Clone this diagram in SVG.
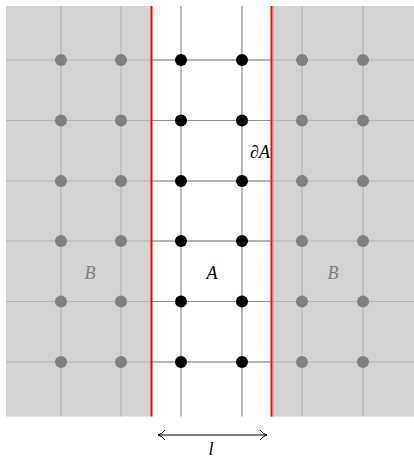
<svg xmlns="http://www.w3.org/2000/svg" width="414" height="460" viewBox="0 0 414 460">
<style>
.bg{fill:#d3d3d3}
.gl{stroke:#b4b4b4;stroke-width:1.2}
.gd{stroke:#8f8f8f;stroke-width:1.2}
.dg{fill:#808080}
.dk{fill:#000}
.bd{stroke:#ff0000;stroke-width:2}
.lbl{font-family:"Liberation Serif","DejaVu Serif",serif;font-style:italic;font-size:18px;text-anchor:middle}
</style>
<defs>
<marker id="ah" markerWidth="10" markerHeight="12" refX="8" refY="6" orient="auto-start-reverse" markerUnits="userSpaceOnUse">
<path d="M1,1 Q4,5 8,6 Q4,7 1,11" fill="none" stroke="#000" stroke-width="1"/>
</marker>
</defs>
<rect width="414" height="460" fill="#fff"/>
<g id="regionB-left"><rect class="bg" x="6" y="6" width="145.5" height="410.5"/></g>
<g id="regionB-right"><rect class="bg" x="271.5" y="6" width="142.5" height="410.5"/></g>
<g id="grid">
<line class="gl" x1="61" y1="6" x2="61" y2="416.5"/>
<line class="gl" x1="121" y1="6" x2="121" y2="416.5"/>
<line class="gl" x1="302" y1="6" x2="302" y2="416.5"/>
<line class="gl" x1="363" y1="6" x2="363" y2="416.5"/>
<line class="gd" x1="181" y1="6" x2="181" y2="416.5"/>
<line class="gd" x1="242" y1="6" x2="242" y2="416.5"/>
<line class="gl" x1="6" y1="60" x2="414" y2="60"/>
<line class="gl" x1="6" y1="120.5" x2="414" y2="120.5"/>
<line class="gl" x1="6" y1="181" x2="414" y2="181"/>
<line class="gl" x1="6" y1="241" x2="414" y2="241"/>
<line class="gl" x1="6" y1="301.5" x2="414" y2="301.5"/>
<line class="gl" x1="6" y1="362" x2="414" y2="362"/>
<line class="gd" x1="151" y1="60" x2="271" y2="60"/>
<line class="gd" x1="151" y1="120.5" x2="271" y2="120.5"/>
<line class="gd" x1="151" y1="181" x2="271" y2="181"/>
<line class="gd" x1="151" y1="241" x2="271" y2="241"/>
<line class="gd" x1="151" y1="301.5" x2="271" y2="301.5"/>
<line class="gd" x1="151" y1="362" x2="271" y2="362"/>
</g>
<g id="boundary">
<line class="bd" x1="151.5" y1="6" x2="151.5" y2="416.5"/>
<line class="bd" x1="271.5" y1="6" x2="271.5" y2="416.5"/>
<line x1="273" y1="6" x2="273" y2="416.5" stroke="#f08080" stroke-width="1"/>
</g>
<g id="sites-B">
<circle class="dg" cx="61" cy="60" r="6"/><circle class="dg" cx="121" cy="60" r="6"/><circle class="dg" cx="302" cy="60" r="6"/><circle class="dg" cx="363" cy="60" r="6"/>
<circle class="dg" cx="61" cy="120.5" r="6"/><circle class="dg" cx="121" cy="120.5" r="6"/><circle class="dg" cx="302" cy="120.5" r="6"/><circle class="dg" cx="363" cy="120.5" r="6"/>
<circle class="dg" cx="61" cy="181" r="6"/><circle class="dg" cx="121" cy="181" r="6"/><circle class="dg" cx="302" cy="181" r="6"/><circle class="dg" cx="363" cy="181" r="6"/>
<circle class="dg" cx="61" cy="241" r="6"/><circle class="dg" cx="121" cy="241" r="6"/><circle class="dg" cx="302" cy="241" r="6"/><circle class="dg" cx="363" cy="241" r="6"/>
<circle class="dg" cx="61" cy="301.5" r="6"/><circle class="dg" cx="121" cy="301.5" r="6"/><circle class="dg" cx="302" cy="301.5" r="6"/><circle class="dg" cx="363" cy="301.5" r="6"/>
<circle class="dg" cx="61" cy="362" r="6"/><circle class="dg" cx="121" cy="362" r="6"/><circle class="dg" cx="302" cy="362" r="6"/><circle class="dg" cx="363" cy="362" r="6"/>
</g>
<g id="sites-A">
<circle class="dk" cx="181" cy="60" r="6"/><circle class="dk" cx="242" cy="60" r="6"/>
<circle class="dk" cx="181" cy="120.5" r="6"/><circle class="dk" cx="242" cy="120.5" r="6"/>
<circle class="dk" cx="181" cy="181" r="6"/><circle class="dk" cx="242" cy="181" r="6"/>
<circle class="dk" cx="181" cy="241" r="6"/><circle class="dk" cx="242" cy="241" r="6"/>
<circle class="dk" cx="181" cy="301.5" r="6"/><circle class="dk" cx="242" cy="301.5" r="6"/>
<circle class="dk" cx="181" cy="362" r="6"/><circle class="dk" cx="242" cy="362" r="6"/>
</g>
<g id="connectors">
<line x1="158" y1="435" x2="267" y2="435" stroke="#000" stroke-width="1" marker-start="url(#ah)" marker-end="url(#ah)"/>
</g>
<g id="labels">
<text class="lbl" x="260" y="158">∂A</text>
<text class="lbl" x="212" y="279">A</text>
<text class="lbl" x="90" y="279" fill="#808080">B</text>
<text class="lbl" x="333" y="279" fill="#808080">B</text>
<text class="lbl" x="211" y="455">l</text>
</g>
</svg>
